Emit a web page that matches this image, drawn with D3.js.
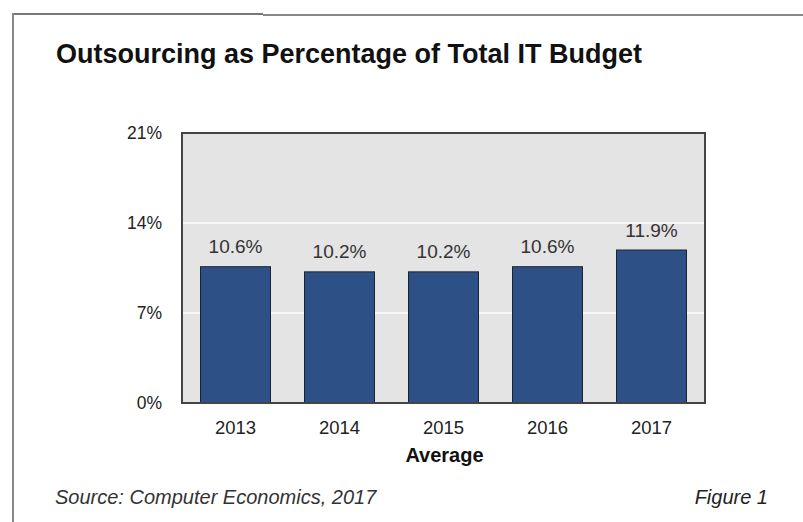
<!DOCTYPE html>
<html>
<head>
<meta charset="utf-8">
<script src="https://cdn.jsdelivr.net/npm/d3@7"></script>
<style>
  html, body { margin: 0; padding: 0; background: #ffffff; }
  svg { display: block; }
</style>
</head>
<body>
<svg id="chart" width="803" height="522"></svg>
<script>
const years = ["2013", "2014", "2015", "2016", "2017"];
const values = [10.6, 10.2, 10.2, 10.6, 11.9];
const valueLabels = ["10.6%", "10.2%", "10.2%", "10.6%", "11.9%"];
const yTicks = [0, 7, 14, 21];
const title = "Outsourcing as Percentage of Total IT Budget";
const xAxisTitle = "Average";
const sourceText = "Source: Computer Economics, 2017";
const figureText = "Figure 1";

const svg = d3.select("#chart");
const font = "'Liberation Sans', Arial, Helvetica, sans-serif";

// outer page frame
svg.append("line").attr("x1", 13).attr("x2", 263).attr("y1", 14).attr("y2", 14)
  .attr("stroke", "#777").attr("stroke-width", 2);
svg.append("line").attr("x1", 263).attr("x2", 803).attr("y1", 15).attr("y2", 15)
  .attr("stroke", "#888").attr("stroke-width", 2);
svg.append("line").attr("x1", 13).attr("x2", 13).attr("y1", 13).attr("y2", 522)
  .attr("stroke", "#888").attr("stroke-width", 2);

// title
svg.append("text").attr("x", 56).attr("y", 63)
  .attr("font-family", font).attr("font-size", 27).attr("font-weight", "bold")
  .attr("fill", "#111").text(title);

const plot = { left: 182, right: 705, top: 133, bottom: 403 };

const x = d3.scaleBand().domain(years)
  .range([plot.left, plot.right]).paddingInner(0.327).paddingOuter(0.178);
const y = d3.scaleLinear().domain([0, 21]).range([plot.bottom, plot.top]);

// plot background
svg.append("rect").attr("x", plot.left).attr("y", plot.top)
  .attr("width", plot.right - plot.left).attr("height", plot.bottom - plot.top)
  .attr("fill", "#e4e4e4");

// gridlines
svg.append("g").selectAll("line").data(yTicks.filter(d => d > 0 && d < 21)).join("line")
  .attr("x1", plot.left).attr("x2", plot.right)
  .attr("y1", d => y(d)).attr("y2", d => y(d))
  .attr("stroke", "#ffffff").attr("stroke-width", 1.5);

// bars
const data = years.map((yr, i) => ({ yr, v: values[i], label: valueLabels[i] }));
svg.append("g").selectAll("rect").data(data).join("rect")
  .attr("x", d => x(d.yr)).attr("width", x.bandwidth())
  .attr("y", d => y(d.v)).attr("height", d => y(0) - y(d.v))
  .attr("fill", "#2d5087").attr("stroke", "#1c2230").attr("stroke-width", 1);

// value labels
svg.append("g").selectAll("text").data(data).join("text")
  .attr("x", d => x(d.yr) + x.bandwidth() / 2)
  .attr("y", d => y(d.v) - 13.5)
  .attr("text-anchor", "middle")
  .attr("font-family", font).attr("font-size", 19).attr("fill", "#333")
  .text(d => d.label);

// plot frame
svg.append("rect").attr("x", plot.left).attr("y", plot.top)
  .attr("width", plot.right - plot.left).attr("height", plot.bottom - plot.top)
  .attr("fill", "none").attr("stroke", "#444").attr("stroke-width", 2);

// y axis labels
const yAxis = d3.axisLeft(y).tickValues(yTicks).tickSize(0).tickPadding(20)
  .tickFormat(d => d + "%");
const gy = svg.append("g").attr("transform", `translate(${plot.left},0)`).call(yAxis);
gy.select(".domain").remove();
gy.selectAll("text").attr("font-family", font).attr("font-size", 17.5).attr("fill", "#222");

// x axis labels
const xAxis = d3.axisBottom(x).tickSize(0).tickPadding(18);
const gx = svg.append("g").attr("transform", `translate(0,${plot.bottom})`).call(xAxis);
gx.select(".domain").remove();
gx.selectAll("text").attr("font-family", font).attr("font-size", 18.5).attr("fill", "#222");

// x axis title
svg.append("text").attr("x", (plot.left + plot.right) / 2 + 1).attr("y", 462)
  .attr("text-anchor", "middle")
  .attr("font-family", font).attr("font-size", 20).attr("font-weight", "bold")
  .attr("fill", "#111").text(xAxisTitle);

// source & figure
svg.append("text").attr("x", 55).attr("y", 504)
  .attr("font-family", font).attr("font-size", 20).attr("font-style", "italic")
  .attr("fill", "#333").text(sourceText);
svg.append("text").attr("x", 768).attr("y", 504).attr("text-anchor", "end")
  .attr("font-family", font).attr("font-size", 20).attr("font-style", "italic")
  .attr("fill", "#222").text(figureText);
</script>
</body>
</html>
